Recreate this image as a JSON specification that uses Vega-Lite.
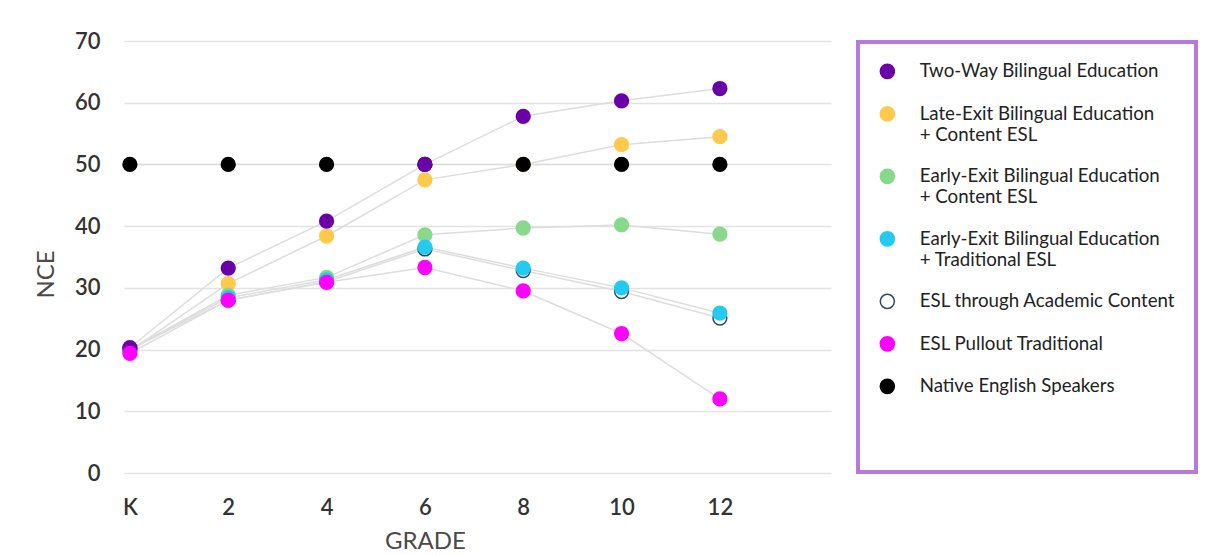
{
  "$schema": "https://vega.github.io/schema/vega-lite/v6.json",
  "width": 707,
  "height": 432,
  "autosize": {"type": "none"},
  "padding": {"left": 124, "top": 41, "right": 397, "bottom": 82},
  "background": "white",
  "config": {
    "view": {"stroke": null},
    "font": "Lato",
    "legend": {"strokeWidth": 4},
    "axis": {
      "labelFont": "Lato",
      "labelFontSize": 22,
      "labelFontWeight": 600,
      "labelColor": "#333333",
      "titleFont": "Lato",
      "titleFontSize": 24,
      "titleFontWeight": "normal",
      "titleColor": "#4a4a4a",
      "domain": false,
      "ticks": false,
      "gridColor": "#e3e3e3",
      "gridWidth": 1.5
    }
  },
  "data": {
    "values": [
      {"series": "Late-Exit Bilingual Education + Content ESL", "grade": 0, "nce": 19.8},
      {"series": "Late-Exit Bilingual Education + Content ESL", "grade": 2, "nce": 30.7},
      {"series": "Late-Exit Bilingual Education + Content ESL", "grade": 4, "nce": 38.4},
      {"series": "Late-Exit Bilingual Education + Content ESL", "grade": 6, "nce": 47.5},
      {"series": "Late-Exit Bilingual Education + Content ESL", "grade": 8, "nce": 50.0},
      {"series": "Late-Exit Bilingual Education + Content ESL", "grade": 10, "nce": 53.2},
      {"series": "Late-Exit Bilingual Education + Content ESL", "grade": 12, "nce": 54.5},
      {"series": "Native English Speakers", "grade": 0, "nce": 50},
      {"series": "Native English Speakers", "grade": 2, "nce": 50},
      {"series": "Native English Speakers", "grade": 4, "nce": 50},
      {"series": "Native English Speakers", "grade": 6, "nce": 50},
      {"series": "Native English Speakers", "grade": 8, "nce": 50},
      {"series": "Native English Speakers", "grade": 10, "nce": 50},
      {"series": "Native English Speakers", "grade": 12, "nce": 50},
      {"series": "Early-Exit Bilingual Education + Content ESL", "grade": 0, "nce": 20.0},
      {"series": "Early-Exit Bilingual Education + Content ESL", "grade": 2, "nce": 28.8},
      {"series": "Early-Exit Bilingual Education + Content ESL", "grade": 4, "nce": 31.7},
      {"series": "Early-Exit Bilingual Education + Content ESL", "grade": 6, "nce": 38.6},
      {"series": "Early-Exit Bilingual Education + Content ESL", "grade": 8, "nce": 39.7},
      {"series": "Early-Exit Bilingual Education + Content ESL", "grade": 10, "nce": 40.2},
      {"series": "Early-Exit Bilingual Education + Content ESL", "grade": 12, "nce": 38.7},
      {"series": "ESL through Academic Content", "grade": 0, "nce": 20.0},
      {"series": "ESL through Academic Content", "grade": 2, "nce": 28.0},
      {"series": "ESL through Academic Content", "grade": 4, "nce": 31.0},
      {"series": "ESL through Academic Content", "grade": 6, "nce": 36.3},
      {"series": "ESL through Academic Content", "grade": 8, "nce": 32.8},
      {"series": "ESL through Academic Content", "grade": 10, "nce": 29.4},
      {"series": "ESL through Academic Content", "grade": 12, "nce": 25.1},
      {"series": "Early-Exit Bilingual Education + Traditional ESL", "grade": 0, "nce": 20.1},
      {"series": "Early-Exit Bilingual Education + Traditional ESL", "grade": 2, "nce": 28.4},
      {"series": "Early-Exit Bilingual Education + Traditional ESL", "grade": 4, "nce": 31.3},
      {"series": "Early-Exit Bilingual Education + Traditional ESL", "grade": 6, "nce": 36.6},
      {"series": "Early-Exit Bilingual Education + Traditional ESL", "grade": 8, "nce": 33.2},
      {"series": "Early-Exit Bilingual Education + Traditional ESL", "grade": 10, "nce": 30.0},
      {"series": "Early-Exit Bilingual Education + Traditional ESL", "grade": 12, "nce": 25.9},
      {"series": "Two-Way Bilingual Education", "grade": 0, "nce": 20.3},
      {"series": "Two-Way Bilingual Education", "grade": 2, "nce": 33.2},
      {"series": "Two-Way Bilingual Education", "grade": 4, "nce": 40.8},
      {"series": "Two-Way Bilingual Education", "grade": 6, "nce": 50.0},
      {"series": "Two-Way Bilingual Education", "grade": 8, "nce": 57.8},
      {"series": "Two-Way Bilingual Education", "grade": 10, "nce": 60.3},
      {"series": "Two-Way Bilingual Education", "grade": 12, "nce": 62.3},
      {"series": "ESL Pullout Traditional", "grade": 0, "nce": 19.4},
      {"series": "ESL Pullout Traditional", "grade": 2, "nce": 28.0},
      {"series": "ESL Pullout Traditional", "grade": 4, "nce": 30.9},
      {"series": "ESL Pullout Traditional", "grade": 6, "nce": 33.3},
      {"series": "ESL Pullout Traditional", "grade": 8, "nce": 29.5},
      {"series": "ESL Pullout Traditional", "grade": 10, "nce": 22.6},
      {"series": "ESL Pullout Traditional", "grade": 12, "nce": 12.0}
    ]
  },
  "encoding": {
    "x": {
      "field": "grade",
      "type": "quantitative",
      "scale": {"domain": [-0.12, 14.26], "nice": false, "zero": false},
      "axis": {
        "values": [0, 2, 4, 6, 8, 10, 12],
        "grid": false,
        "labelExpr": "datum.value == 0 ? 'K' : datum.label",
        "labelPadding": 24,
        "labelBaseline": "top",
        "title": "GRADE",
        "titleX": 301,
        "titleY": 68.5,
        "titleBaseline": "middle",
        "titleAlign": "center"
      }
    },
    "y": {
      "field": "nce",
      "type": "quantitative",
      "scale": {"domain": [0, 70], "nice": false},
      "axis": {
        "values": [0, 10, 20, 30, 40, 50, 60, 70],
        "labelPadding": 24,
        "title": "NCE",
        "titleX": -78,
        "titleY": 233,
        "titleAngle": -90,
        "titleBaseline": "middle",
        "titleAlign": "center"
      }
    }
  },
  "layer": [
    {
      "mark": {"type": "line", "color": "#dddddd", "strokeWidth": 1.5},
      "encoding": {"detail": {"field": "series", "type": "nominal"}}
    },
    {
      "mark": {"type": "point", "filled": false, "size": 190, "opacity": 1, "fillOpacity": 1, "strokeWidth": 1.5},
      "encoding": {
        "fill": {
          "field": "series",
          "type": "nominal",
          "scale": {
            "domain": ["Two-Way Bilingual Education", "Late-Exit Bilingual Education + Content ESL", "Early-Exit Bilingual Education + Content ESL", "Early-Exit Bilingual Education + Traditional ESL", "ESL through Academic Content", "ESL Pullout Traditional", "Native English Speakers"],
            "range": ["#6a00a8", "#ffc94d", "#88d98a", "#22cbef", "#ffffff", "#ff00ff", "#000000"]
          },
          "legend": {
            "title": " ",
            "titleOrient": "bottom",
            "titleFontSize": 17,
            "titlePadding": 40,
            "orient": "none",
            "legendX": 734,
            "legendY": 1,
            "padding": 20,
            "strokeColor": "#b77ad8",
            "fillColor": "white",
            "symbolType": "circle",
            "symbolSize": 200,
            "symbolStrokeWidth": 1.5,
            "labelFont": "Lato",
            "labelFontSize": 18.7,
            "labelColor": "#222222",
            "labelOffset": 23,
            "labelLimit": 400,
            "rowPadding": 21.5,
            "labelExpr": "indexof(datum.label, ' + ') > 0 ? [substring(datum.label, 0, indexof(datum.label, ' + ')), substring(datum.label, indexof(datum.label, ' + ') + 1)] : datum.label",
            "encode": {
              "labels": {"update": {"lineHeight": {"value": 22}}}
            }
          }
        },
        "stroke": {
          "field": "series",
          "type": "nominal",
          "scale": {
            "domain": ["Two-Way Bilingual Education", "Late-Exit Bilingual Education + Content ESL", "Early-Exit Bilingual Education + Content ESL", "Early-Exit Bilingual Education + Traditional ESL", "ESL through Academic Content", "ESL Pullout Traditional", "Native English Speakers"],
            "range": ["#6a00a8", "#ffc94d", "#88d98a", "#22cbef", "#2e4a5c", "#ff00ff", "#000000"]
          }
        }
      }
    }
  ]
}
